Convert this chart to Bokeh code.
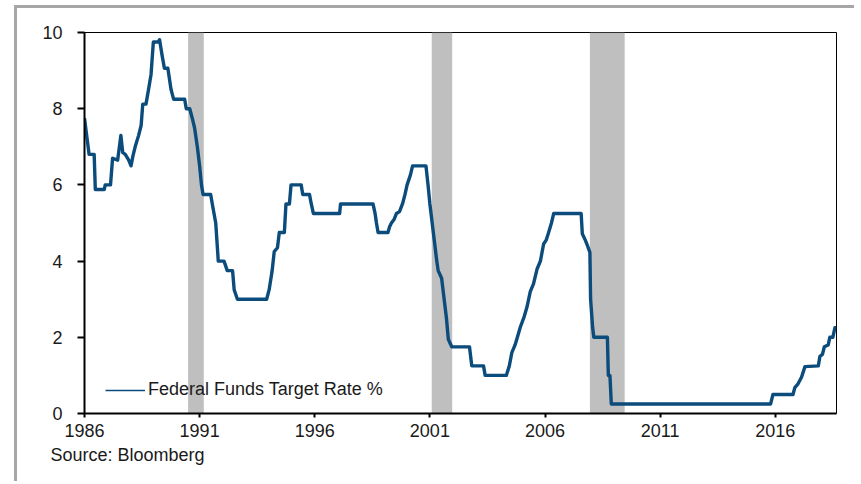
from bokeh.plotting import figure
from bokeh.models import Range1d, Legend, LegendItem, Title, FixedTicker, ColumnDataSource
from bokeh.embed import file_html
from bokeh.resources import INLINE

# Federal funds target rate (%) (decimal years)
years = [1986.00, 1986.20, 1986.42, 1986.47, 1986.86, 1986.90, 1987.13, 1987.22, 1987.44,
         1987.58, 1987.66, 1987.77, 1987.92, 1988.02, 1988.10, 1988.20, 1988.35, 1988.46,
         1988.53, 1988.67, 1988.78, 1988.89, 1988.99, 1989.20, 1989.26, 1989.37, 1989.47,
         1989.62, 1989.76, 1989.87, 1990.35, 1990.42, 1990.57, 1990.68, 1990.78, 1990.90,
         1991.00, 1991.08, 1991.15, 1991.48, 1991.55, 1991.70, 1991.81, 1992.06, 1992.20,
         1992.43, 1992.50, 1992.64, 1993.91, 1994.02, 1994.15, 1994.24, 1994.38, 1994.46,
         1994.68, 1994.75, 1994.90, 1994.97, 1995.41, 1995.48, 1995.77, 1995.85, 1995.94,
         1997.08, 1997.12, 1998.53, 1998.62, 1998.68, 1998.75, 1999.18, 1999.25, 1999.33,
         1999.45, 1999.55, 1999.68, 1999.81, 1999.92, 2000.01, 2000.15, 2000.25, 2000.83,
         2000.92, 2001.00, 2001.10, 2001.20, 2001.30, 2001.36, 2001.51, 2001.62, 2001.72,
         2001.80, 2001.95, 2002.72, 2002.82, 2003.33, 2003.40, 2004.32, 2004.45, 2004.56,
         2004.70, 2004.80, 2004.93, 2005.10, 2005.22, 2005.36, 2005.50, 2005.66, 2005.80,
         2005.94, 2006.05, 2006.16, 2006.28, 2006.38, 2007.57, 2007.62, 2007.75, 2007.84,
         2007.95, 2007.98, 2008.07, 2008.12, 2008.71, 2008.75, 2008.82, 2008.88, 2015.80,
         2015.90, 2016.77, 2016.85, 2016.99, 2017.14, 2017.29, 2017.87, 2017.94, 2018.05,
         2018.13, 2018.30, 2018.37, 2018.50, 2018.59, 2018.66]
rates = [7.75, 6.80, 6.80, 5.88, 5.88, 6.00, 6.00, 6.70, 6.65,
         7.30, 6.85, 6.80, 6.65, 6.50, 6.75, 7.00, 7.30, 7.56,
         8.12, 8.12, 8.50, 8.90, 9.75, 9.75, 9.81, 9.40, 9.06,
         9.06, 8.50, 8.25, 8.25, 8.00, 8.00, 7.75, 7.50, 7.00,
         6.50, 6.00, 5.75, 5.75, 5.50, 5.00, 4.00, 4.00, 3.75,
         3.75, 3.25, 3.00, 3.00, 3.25, 3.75, 4.25, 4.35, 4.75,
         4.75, 5.50, 5.50, 6.00, 6.00, 5.75, 5.75, 5.50, 5.25,
         5.25, 5.50, 5.50, 5.25, 5.00, 4.75, 4.75, 4.90, 5.00,
         5.10, 5.25, 5.30, 5.50, 5.75, 6.00, 6.25, 6.50, 6.50,
         6.00, 5.50, 5.00, 4.50, 4.00, 3.75, 3.55, 3.00, 2.50,
         1.95, 1.75, 1.75, 1.25, 1.25, 1.00, 1.00, 1.25, 1.60,
         1.80, 2.00, 2.27, 2.55, 2.80, 3.20, 3.40, 3.80, 4.00,
         4.45, 4.55, 4.76, 5.00, 5.25, 5.25, 4.72, 4.55, 4.41,
         4.23, 3.00, 2.25, 2.00, 2.00, 1.00, 1.00, 0.25, 0.25,
         0.50, 0.50, 0.68, 0.78, 0.95, 1.23, 1.25, 1.50, 1.55,
         1.75, 1.80, 2.00, 2.00, 2.25, 2.25]

# Recession periods (shaded)
rec_start = [1990.50, 2001.08, 2007.95]
rec_end = [1991.18, 2001.97, 2009.46]

x_ticks = [1986, 1991, 1996, 2001, 2006, 2011, 2016]
y_ticks = [0, 2, 4, 6, 8, 10]
series_name = "Federal Funds Target Rate %"
source_note = "Source: Bloomberg"

FONT = "Liberation Sans"
TXT = "#1a1a1a"

p = figure(width=840, height=476, output_backend="svg", toolbar_location=None,
           x_range=Range1d(1986, 2018.66), y_range=Range1d(0, 10),
           min_border_left=67, min_border_right=21, min_border_top=24, min_border_bottom=71)
p.styles = {"margin-left": "14px", "margin-top": "5px",
            "border-left": "3px solid #A6A6A6", "border-top": "3px solid #A6A6A6"}
p.background_fill_color = "white"
p.border_fill_color = "white"
p.outline_line_color = "black"
p.outline_line_width = 1
p.xgrid.visible = False
p.ygrid.visible = False

src_rec = ColumnDataSource(dict(left=rec_start, right=rec_end,
                                bottom=[0] * len(rec_start), top=[10] * len(rec_start)))
p.quad(left="left", right="right", bottom="bottom", top="top", source=src_rec,
       fill_color="#BFBFBF", line_color=None)

line_color = "#0B4C7C"
p.line(years, rates, line_color=line_color, line_width=3.4, line_join="round")

# legend proxy with thinner line (drawn outside the visible range)
proxy = p.line([1990, 1991], [-10, -10], line_color=line_color, line_width=1.6)
legend = Legend(items=[LegendItem(label=series_name, renderers=[proxy])],
                location=(21, 13), padding=0, margin=0, spacing=0,
                glyph_width=40, glyph_height=16, label_height=16, label_standoff=3,
                label_text_font=FONT, label_text_font_size="18px", label_text_color=TXT,
                background_fill_alpha=0, border_line_alpha=0)
p.add_layout(legend, "center")

for ax in (p.xaxis[0], p.yaxis[0]):
    ax.axis_line_color = "black"
    ax.axis_line_width = 2
    ax.major_tick_line_color = "black"
    ax.major_tick_line_width = 2
    ax.minor_tick_line_color = None
    ax.major_tick_in = 0
    ax.major_label_text_font = FONT
    ax.major_label_text_font_size = "18px"
    ax.major_label_text_color = TXT

p.xaxis[0].ticker = FixedTicker(ticks=x_ticks)
p.yaxis[0].ticker = FixedTicker(ticks=y_ticks)
p.xaxis[0].major_tick_out = 4
p.xaxis[0].major_label_standoff = 6
p.yaxis[0].major_tick_out = 7
p.yaxis[0].major_label_standoff = 15

p.add_layout(Title(text=source_note, align="left", offset=-34, standoff=6,
                   text_font=FONT, text_font_size="18px", text_color=TXT,
                   text_font_style="normal"), "below")

open("out.html", "w").write(file_html(p, INLINE))
